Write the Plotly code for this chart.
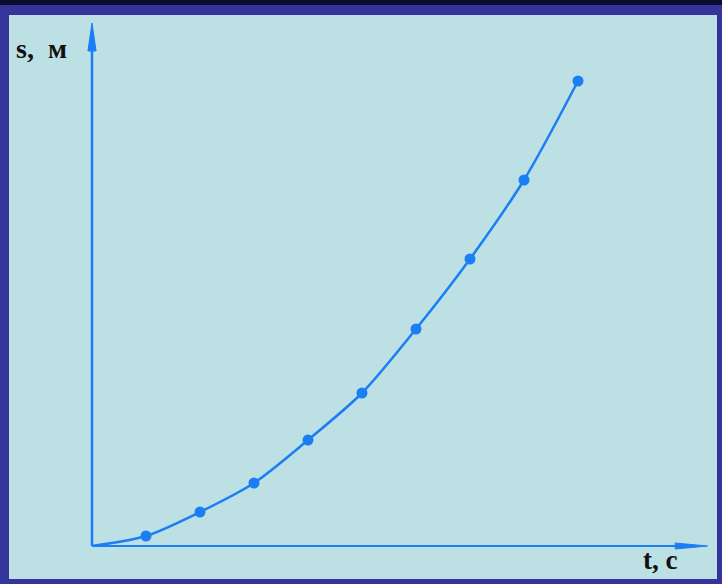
import plotly.graph_objects as go

# Data (time t in s, path s in arbitrary units)
t_values = [0, 1, 2, 3, 4, 5, 6, 7, 8, 9]
s_values = [0, 1.0, 3.4, 6.3, 10.6, 15.3, 21.7, 28.7, 36.6, 46.5]
x_label = "t, с"
y_label = "s, м"

W, H = 722, 584
# axis extents (arrow tips) in data units
T_AXIS_END = 11.4
S_AXIS_END = 52.3

LINE_COLOR = "#1b7ef5"
PANEL = "#bce0e3"
NAVY = "#34349a"

fig = go.Figure()
fig.add_trace(go.Scatter(
    x=t_values[1:], y=s_values[1:], mode="markers",
    marker=dict(size=11, color=LINE_COLOR), showlegend=False, hoverinfo="skip"))
fig.add_trace(go.Scatter(
    x=t_values, y=s_values, mode="lines",
    line=dict(color=LINE_COLOR, width=2.5, shape="spline", smoothing=0.8),
    showlegend=False, hoverinfo="skip"))

def px_to_paper(px, py):
    return px / W, 1 - py / H

shapes = []
# dark top strip
shapes.append(dict(type="rect", xref="paper", yref="paper", x0=0, x1=1,
                   y0=1 - 5 / H, y1=1, fillcolor="#0b0b2e", line=dict(width=0), layer="below"))
# light panel
x0, y0 = px_to_paper(9, 579)
x1, y1 = px_to_paper(717, 15)
shapes.append(dict(type="rect", xref="paper", yref="paper", x0=x0, x1=x1, y0=y0, y1=y1,
                   fillcolor=PANEL, line=dict(width=0), layer="below"))
# axis lines
shapes.append(dict(type="line", xref="x", yref="y", x0=0, y0=0, x1=0, y1=S_AXIS_END - 1,
                   line=dict(color=LINE_COLOR, width=2.5)))
shapes.append(dict(type="line", xref="x", yref="y", x0=0, y0=0, x1=T_AXIS_END - 0.2, y1=0,
                   line=dict(color=LINE_COLOR, width=2)))
# arrowheads (long, narrow)
yl = 2.8   # length in s units (10 px per unit)
yw = 0.075 # half width in t units (54 px per unit)
shapes.append(dict(type="path", xref="x", yref="y",
                   path=f"M 0 {S_AXIS_END} L {yw} {S_AXIS_END - yl} L {-yw} {S_AXIS_END - yl} Z",
                   fillcolor=LINE_COLOR, line=dict(color=LINE_COLOR, width=1)))
xl = 0.6
xw = 0.3
shapes.append(dict(type="path", xref="x", yref="y",
                   path=f"M {T_AXIS_END} 0 L {T_AXIS_END - xl} {xw} L {T_AXIS_END - xl} {-xw} Z",
                   fillcolor=LINE_COLOR, line=dict(color=LINE_COLOR, width=1)))

annotations = []
lx, ly = px_to_paper(41, 48)
annotations.append(dict(text="<b>" + y_label.replace(" ", "&nbsp;&nbsp;") + "</b>", xref="paper", yref="paper",
                        x=lx, y=ly, showarrow=False, xanchor="center", yanchor="middle",
                        font=dict(family="Liberation Serif", size=28, color="#111")))
lx, ly = px_to_paper(660, 560)
annotations.append(dict(text="<b>" + x_label + "</b>", xref="paper", yref="paper",
                        x=lx, y=ly, showarrow=False, xanchor="center", yanchor="middle",
                        font=dict(family="Liberation Serif", size=27, color="#111")))

fig.update_layout(
    width=W, height=H,
    margin=dict(l=0, r=0, t=0, b=0),
    paper_bgcolor=NAVY, plot_bgcolor="rgba(0,0,0,0)",
    shapes=shapes, annotations=annotations,
    xaxis=dict(range=[-92 / 54, (W - 92) / 54], visible=False, fixedrange=True),
    yaxis=dict(range=[-3.8, (H - 38) / 10], visible=False, fixedrange=True),
)

fig.write_html("out.html", config={"staticPlot": True},
               post_script="document.body.style.margin='0';document.body.style.overflow='hidden';")
